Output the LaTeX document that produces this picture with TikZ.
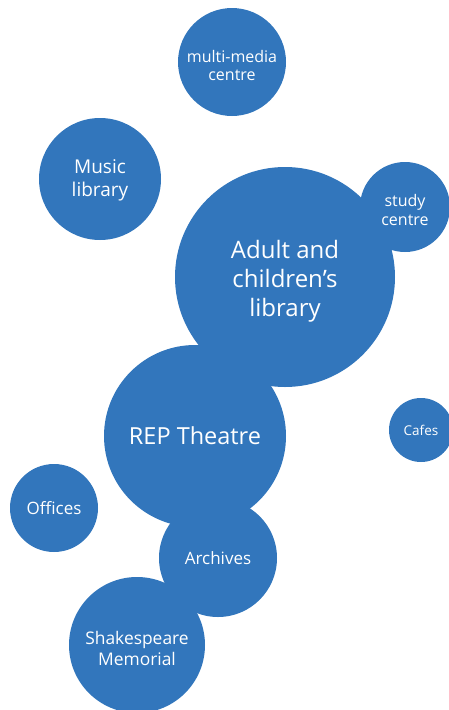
\documentclass[tikz,border=0pt]{standalone}
\usepackage{fontspec}
\setmainfont{Open Sans}
\definecolor{bubbleblue}{RGB}{50,118,188}

\begin{document}
\begin{tikzpicture}[x=1pt,y=-1pt,
    bubble/.style={circle, fill=bubbleblue, inner sep=0pt, text=white, align=center}
]
\useasboundingbox (0,0) rectangle (449,710);

% Bubbles
\node[bubble, minimum size=108, text height=38pt, font=\fontsize{16}{18}\selectfont] (Media) at (232,62) {multi-media\\centre};
\node[bubble, minimum size=122, text height=39.5pt, font=\fontsize{19}{23}\selectfont] (Music) at (100,179) {Music\\library};
\node[bubble, minimum size=220, text height=84pt, font=\fontsize{24}{29}\selectfont] (Adult) at (285,277) {Adult and\\children's\\library};
\node[bubble, minimum size=90, text height=37pt, font=\fontsize{16}{19}\selectfont] (Study) at (405,207) {study\\centre};
\node[bubble, minimum size=64, font=\fontsize{13.5}{15}\selectfont] (Cafes) at (421,430) {Cafes};
\node[bubble, minimum size=182, font=\fontsize{23.5}{29}\selectfont] (Rep) at (195,436) {REP Theatre};
\node[bubble, minimum size=88, font=\fontsize{17}{20}\selectfont] (Offices) at (54,508) {Offices};
\node[bubble, minimum size=118, font=\fontsize{17}{19}\selectfont] (Archives) at (218,558) {Archives};
\node[bubble, minimum size=136, text height=41pt, font=\fontsize{17.4}{21}\selectfont] (Shakespeare) at (137,645) {Shakespeare\\Memorial};
\end{tikzpicture}
\end{document}
